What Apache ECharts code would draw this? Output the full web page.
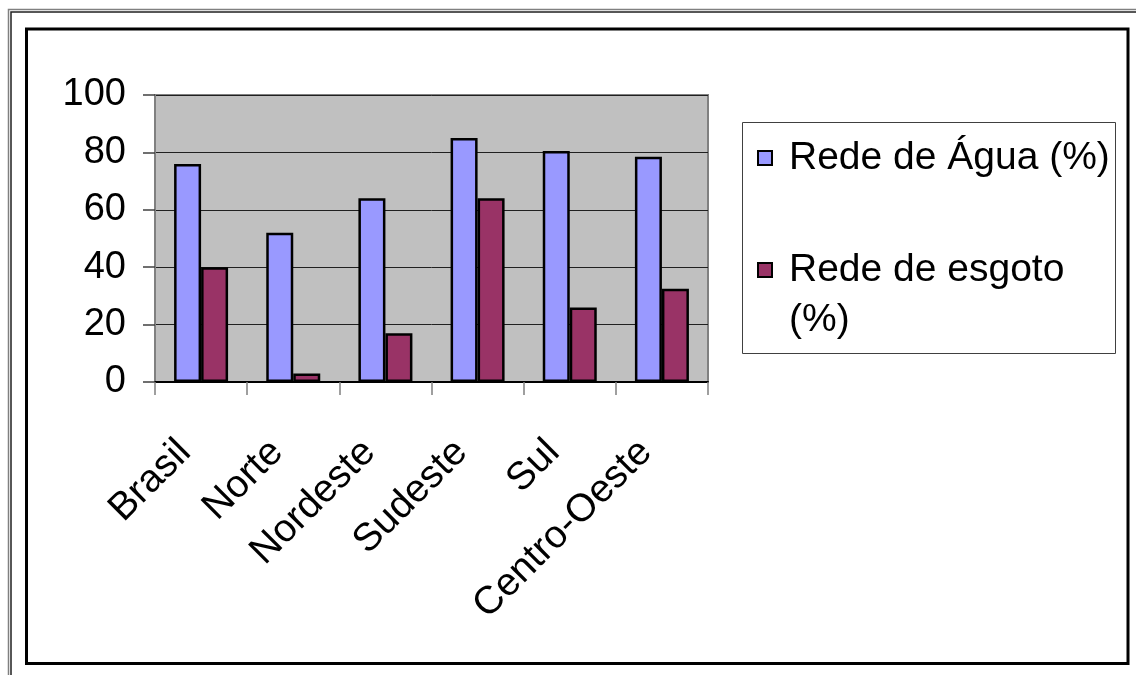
<!DOCTYPE html>
<html>
<head>
<meta charset="utf-8">
<script src="https://cdn.jsdelivr.net/npm/echarts@6/dist/echarts.min.js"></script>
<style>
  html, body { margin: 0; padding: 0; background: #ffffff; }
  #chart { width: 1136px; height: 675px; }
</style>
</head>
<body>
<div id="chart"></div>
<script>
// Regions of Brazil and coverage of water and sewage networks
const regions = ['Brasil', 'Norte', 'Nordeste', 'Sudeste', 'Sul', 'Centro-Oeste'];
const redeAgua = [76, 52, 64, 85, 80.5, 78.5];
const redeEsgoto = [40, 3, 17, 64, 26, 32.5];
const seriesNames = ['Rede de Água (%)', 'Rede de esgoto (%)'];
const yTicks = { min: 0, max: 100, step: 20 };

const FONT = 'Liberation Sans, Arial, Helvetica, sans-serif';
const BAR_BORDER = { borderColor: '#000000', borderWidth: 2.5 };
const LEGEND_TEXT = { fontFamily: FONT, fontSize: 39, color: '#000', lineHeight: 50, padding: [0, 0, 0, 12] };
const LEGEND_ICON = { borderColor: '#000000', borderWidth: 2 };

const chart = echarts.init(document.getElementById('chart'), null, { renderer: 'canvas' });

chart.setOption({
  backgroundColor: '#ffffff',
  animation: false,
  textStyle: { fontFamily: FONT },
  graphic: [
    // outer double frame (gray + dark)
    { type: 'polyline', silent: true, z: 0,
      shape: { points: [[8.5, 675], [8.5, 9.5], [1136, 9.5]] },
      style: { fill: null, stroke: '#808080', lineWidth: 1.5 } },
    { type: 'polyline', silent: true, z: 0,
      shape: { points: [[11, 675], [11, 12], [1136, 12]] },
      style: { fill: null, stroke: '#202020', lineWidth: 1.5 } },
    // inner chart frame
    { type: 'rect', silent: true, z: 0,
      shape: { x: 26.5, y: 29, width: 1101.5, height: 634.5 },
      style: { fill: null, stroke: '#000000', lineWidth: 3 } },
    // legend box
    { type: 'rect', silent: true, z: 0,
      shape: { x: 742.5, y: 122.5, width: 373, height: 231 },
      style: { fill: '#ffffff', stroke: '#404040', lineWidth: 1 } }
  ],
  grid: {
    left: 155, top: 95, width: 553, height: 287,
    show: true, backgroundColor: '#C0C0C0',
    borderColor: '#808080', borderWidth: 2
  },
  legend: [
    {
      data: [seriesNames[0]],
      left: 757, top: 133, padding: 0,
      itemWidth: 14, itemHeight: 14,
      icon: 'rect', selectedMode: false,
      itemStyle: LEGEND_ICON,
      textStyle: LEGEND_TEXT
    },
    {
      data: [seriesNames[1]],
      left: 757, top: 195, padding: 0,
      itemWidth: 14, itemHeight: 14,
      icon: 'rect', selectedMode: false,
      itemStyle: LEGEND_ICON,
      // empty first line keeps the marker level with the first line of text
      formatter: function () { return '\u00a0\nRede de esgoto\n(%)'; },
      textStyle: LEGEND_TEXT
    }
  ],
  xAxis: {
    type: 'category',
    data: regions,
    axisLine: { show: true, lineStyle: { color: '#000000', width: 2 } },
    axisTick: { show: true, alignWithLabel: false, length: 13, lineStyle: { color: '#808080', width: 1.5 } },
    axisLabel: {
      rotate: 45, margin: 48, interval: 0,
      padding: [0, 23, 0, 0],
      fontFamily: FONT, fontSize: 39, color: '#000'
    },
    splitLine: { show: false }
  },
  yAxis: {
    type: 'value',
    min: yTicks.min, max: yTicks.max, interval: yTicks.step,
    axisLine: { show: true, lineStyle: { color: '#808080', width: 2 } },
    axisTick: { show: true, length: 12, lineStyle: { color: '#404040', width: 1.5 } },
    axisLabel: { margin: 29, fontFamily: FONT, fontSize: 38, color: '#000' },
    splitLine: { show: true, lineStyle: { color: '#202020', width: 1 } }
  },
  series: [
    {
      name: seriesNames[0], type: 'bar', data: redeAgua,
      barWidth: 27, barGap: '0%',
      itemStyle: Object.assign({ color: '#9999FF' }, BAR_BORDER)
    },
    {
      name: seriesNames[1], type: 'bar', data: redeEsgoto,
      barWidth: 27, barGap: '0%',
      itemStyle: Object.assign({ color: '#993366' }, BAR_BORDER)
    }
  ]
});
</script>
</body>
</html>
